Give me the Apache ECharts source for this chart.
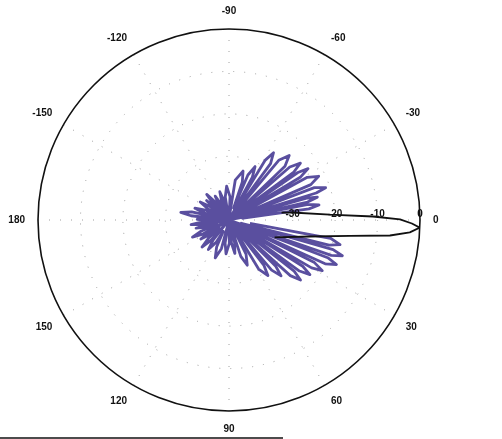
<!DOCTYPE html>
<html><head><meta charset="utf-8">
<script src="https://cdn.jsdelivr.net/npm/echarts@6/dist/echarts.min.js"></script>
<style>html,body{margin:0;padding:0;background:#fff}#c{width:502px;height:439px}</style>
</head><body><div id="c"></div>
<script>
// Angle tick labels (degrees, as printed on the chart)
const angleLabels = [0, 30, 60, 90, 120, 150, 180, -150, -120, -90, -60, -30];
// Radial tick labels (dB) and dotted grid rings (dB)
const radialLabels = [-30, -20, -10, 0];
const gridRings = [-30, -20, -10];

// Main lobe (black trace): angle (deg) and level (dB)
const mainAngles = [-8, -6.8, -3.1, -1.4, -0.2, 1.1, 2.3, 3.9, 5.5, 7.5, 11.5, 20.8];
const mainDb     = [-32.5, -30.1, -21.2, -11.1, -4.7, -1.9, 0, -2.3, -6.9, -16.2, -25.5, -33.5];

// Side lobes (purple trace): angle (deg) and level (dB)
const sideAngles = [
  9, 10.2, 12.5, 14.1, 15, 15.9, 17.5, 19.1, 20, 20.9, 22.5, 24.5, 25.5, 26.5, 28.5, 30.1, 31,
  32.1, 34, 35.9, 37, 38.1, 40, 42.2, 43.5, 44.7, 47, 49.6, 51, 52.4, 55, 58.9, 61,
  63.5, 68, 72, 74, 76.1, 80, 83.9, 86, 89.2, 95, 99.6, 102,
  104.8, 110, 114.6, 117, 119.8, 125, 128.3, 130, 131.8, 135, 138.3, 140,
  142.1, 146, 148.6, 150, 151.8, 155, 158.3, 160, 162.1, 166, 168, 169,
  170.4, 173, 175.6, 177, 178.4, -179, -176.4, -175,
  -173.6, -171, -167.7, -166, -164.2, -161, -157.1, -155, -152.5, -148, -144.7, -143,
  -141.6, -139, -136.4, -135, -133.6, -131, -127.7, -126, -123.9, -120, -116.1, -114,
  -111.9, -108, -104.1, -102, -99.2, -94, -87.5, -85, -81.1, -74, -70.7, -69,
  -67.2, -64, -61.4, -60, -58.8, -56.5, -53.6, -52, -50.2, -47, -43.9, -42.5,
  -41.1, -38.5, -36.5, -35.5, -34.6, -33, -31, -30, -28.6, -26, -23.4, -22,
  -20.8, -18.5, -17.2, -16.5, -15.8, -14.5, -12.9, -12, -11.1, -9.5, -7.9, -7
];
const sideDb = [
  -40, -20.7, -18.2, -20.7, -42, -19.5, -17, -19.5, -44.5, -20.1, -17.6, -20.1, -42, -22.5, -20, -22.5, -44.5,
  -24.5, -22, -24.5, -45, -25.5, -23, -25.5, -42, -29.5, -27, -29.5, -44.5, -31.5, -29, -31.5, -45,
  -36, -33.5, -36, -44.5, -39.5, -37, -39.5, -45, -39.5, -37, -39.5, -44.5,
  -38, -35.5, -38, -42, -39, -36.5, -39, -44.5, -38.5, -36, -38.5, -42,
  -39.5, -37, -39.5, -45, -38, -35.5, -38, -42, -39.5, -37, -39.5, -44.5,
  -38.5, -36, -38.5, -44.5, -40, -37.5, -40, -45,
  -36, -33.5, -36, -44.5, -39, -36.5, -39, -44.5, -39.5, -37, -39.5, -45,
  -40.5, -38, -40.5, -44.5, -39.5, -37, -39.5, -45, -41, -38.5, -41, -44.5,
  -40.5, -38, -40.5, -45, -39.5, -37, -39.5, -44.5, -35.5, -33, -35.5, -42,
  -33.5, -31, -33.5, -44.5, -28.5, -26, -28.5, -45, -26.7, -24.2, -26.7, -44.5,
  -26, -23.5, -26, -45, -25.3, -22.8, -25.3, -44.5, -24, -21.5, -24, -45,
  -23.5, -21, -23.5, -44.5, -26, -23.5, -26, -45, -26, -23.5, -26, -42
];

function toPlot(a) { return a < 0 ? a + 360 : a; }
function pairs(A, V) { return A.map(function (a, i) { return [V[i], toPlot(a)]; }); }

const FONT = 'Liberation Sans, Arial, sans-serif';
const chart = echarts.init(document.getElementById('c'), null, {renderer: 'canvas'});
chart.setOption({
  animation: false,
  backgroundColor: '#fff',
  polar: { center: [229, 220], radius: 191 },
  angleAxis: {
    type: 'value', min: 0, max: 360, interval: 30, startAngle: 0, clockwise: true,
    axisLine: { show: true, lineStyle: { color: '#111', width: 1.6 } },
    axisTick: { show: false },
    axisLabel: {
      margin: 13, color: '#111', fontSize: 10, fontWeight: 'bold', fontFamily: FONT,
      formatter: function (v) {
        if (v === 360) return '';
        const s = v > 180 ? v - 360 : v;
        return angleLabels.indexOf(s) >= 0 ? String(s) : '';
      }
    },
    splitLine: { show: true, lineStyle: { color: '#a0a0a0', width: 1, type: [1, 10] } }
  },
  radiusAxis: {
    type: 'value', min: -45, max: 0, interval: 5, z: 10,
    axisLine: { show: false },
    axisTick: { show: false },
    axisLabel: {
      customValues: radialLabels, margin: 1,
      color: '#111', fontSize: 10, fontWeight: 'bold', fontFamily: FONT,
      formatter: function (v) { return String(v); }
    },
    splitLine: { show: false }
  },
  series: [
    {
      type: 'line', coordinateSystem: 'polar', data: pairs(sideAngles, sideDb),
      showSymbol: false, smooth: false,
      lineStyle: { color: '#5a4f9f', width: 2.8, join: 'round' }, z: 3
    },
    {
      type: 'line', coordinateSystem: 'polar', data: pairs(mainAngles, mainDb),
      showSymbol: false, smooth: false,
      lineStyle: { color: '#111', width: 1.8 }, z: 4
    }
  ]
});

// dotted grid rings positioned through the polar scale
const c0 = chart.convertToPixel({ polarIndex: 0 }, [-45, 0]);
const rings = gridRings.map(function (db) {
  const p = chart.convertToPixel({ polarIndex: 0 }, [db, 0]);
  const r = Math.hypot(p[0] - c0[0], p[1] - c0[1]);
  return { type: 'circle', z: 1, silent: true, shape: { cx: c0[0], cy: c0[1], r: r },
           style: { fill: null, stroke: '#a0a0a0', lineWidth: 1, lineDash: [1, 10] } };
});
rings.push({ type: 'line', shape: { x1: 0, y1: 438, x2: 283, y2: 438 }, style: { stroke: '#111', lineWidth: 1.5 } });
chart.setOption({ graphic: rings });
</script>
</body></html>
